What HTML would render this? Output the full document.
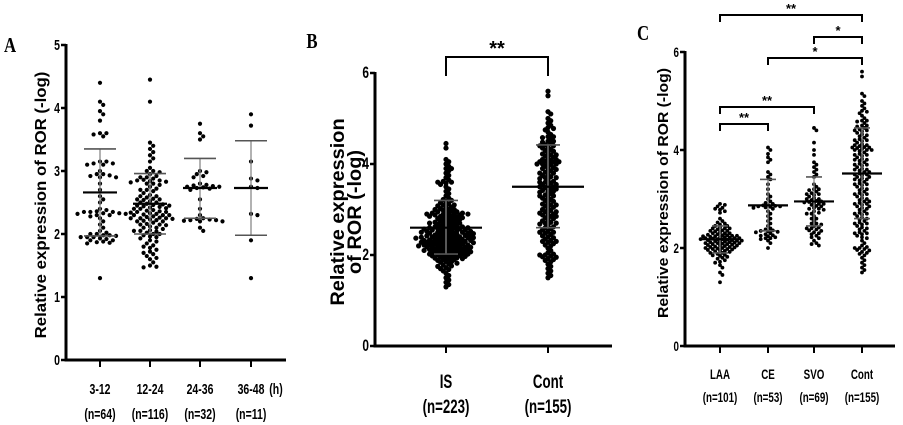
<!DOCTYPE html>
<html><head><meta charset="utf-8"><style>
html,body{margin:0;padding:0;background:#fff;width:903px;height:425px;overflow:hidden}
svg{display:block;font-family:"Liberation Sans",Arial,sans-serif}
</style></head><body>
<svg id="fig" width="903" height="425" viewBox="0 0 903 425"></svg>
<script>
// ---------- DATA ----------
const catsA = ["3-12","12-24","24-36","36-48"];
const nA = ["(n=64)","(n=116)","(n=32)","(n=11)"];
const a1 = [4.4,4.1,4.05,3.95,3.9,3.8,3.6,3.6,3.58,3.55,3.15,3.12,3.1,3.1,3.12,3.15,2.95,2.93,2.92,2.9,2.95,2.9,2.35,2.33,2.32,2.35,2.3,2.33,2.35,2.32,2.36,2.3,2.28,2.2,2.1,2.05,2.0,2.0,1.98,1.97,1.95,1.95,1.93,1.92,1.9,1.88,1.87,1.86,1.95,2.02,1.98,1.9,1.85,1.3,2.25,2.4,2.5,2.55,2.6,2.7,2.8,3.0,2.38,2.15];
const a2 = [4.45,4.1,3.45,3.4,3.35,3.3,3.25,3.2,3.15,3.05,3.0,3.0,2.98,2.95,2.92,2.9,2.88,2.86,2.85,2.85,2.84,2.83,2.82,2.8,2.8,2.78,2.75,2.72,2.7,2.68,2.65,2.62,2.6,2.58,2.56,2.55,2.54,2.52,2.5,2.5,2.48,2.47,2.46,2.45,2.44,2.43,2.42,2.41,2.4,2.4,2.38,2.37,2.36,2.35,2.34,2.33,2.32,2.31,2.3,2.3,2.28,2.27,2.26,2.25,2.25,2.24,2.23,2.22,2.21,2.2,2.2,2.18,2.16,2.15,2.14,2.12,2.1,2.1,2.08,2.06,2.05,2.04,2.02,2.0,2.0,1.98,1.96,1.95,1.93,1.9,1.88,1.85,1.82,1.8,1.78,1.75,1.72,1.7,1.68,1.65,1.62,1.6,1.55,1.5,1.48,1.47,2.6,2.7,2.9,2.35,2.45,2.15,2.05,2.55,2.25,2.3];
const a3 = [3.75,3.6,3.55,3.5,3.0,2.98,2.95,2.92,2.9,2.78,2.77,2.76,2.75,2.75,2.74,2.73,2.72,2.7,2.55,2.4,2.3,2.25,2.24,2.23,2.22,2.22,2.21,2.2,2.2,2.1,2.05,2.8];
const a4 = [3.9,3.72,3.15,2.88,2.85,2.73,2.32,2.3,1.9,1.3,2.75];
const meanA = [2.66,2.48,2.73,2.73];
const loA = [1.97,2.0,2.25,1.98];
const hiA = [3.35,2.96,3.2,3.48];

const catsB = ["IS","Cont"];
const nB = ["(n=223)","(n=155)"];
const isVals = [4.45,4.35,4.1,4.05,4.0,3.95,3.9,3.9,3.85,3.8,3.75,3.7,3.65,3.62,3.6,3.6,3.58,3.55,3.5,3.45,3.4,3.35,3.3,3.25,3.22,3.2,3.18,3.15,3.12,3.1,3.1,3.08,3.05,3.05,3.02,3.0,3.0,2.98,2.96,2.95,2.94,2.92,2.92,2.9,2.9,2.9,2.88,2.88,2.86,2.85,2.85,2.84,2.82,2.8,2.8,2.78,2.76,2.75,2.74,2.72,2.7,2.7,2.7,2.68,2.66,2.65,2.64,2.62,2.6,2.6,2.6,2.58,2.57,2.56,2.55,2.55,2.54,2.53,2.52,2.5,2.5,2.5,2.49,2.48,2.47,2.46,2.45,2.45,2.44,2.43,2.42,2.41,2.4,2.4,2.4,2.39,2.38,2.37,2.36,2.35,2.35,2.35,2.34,2.33,2.32,2.31,2.3,2.3,2.3,2.29,2.28,2.27,2.26,2.25,2.25,2.25,2.24,2.23,2.22,2.21,2.2,2.2,2.2,2.19,2.18,2.17,2.16,2.15,2.15,2.14,2.13,2.12,2.11,2.1,2.1,2.1,2.09,2.08,2.07,2.06,2.05,2.05,2.04,2.03,2.02,2.01,2.0,2.0,2.0,1.99,1.98,1.97,1.96,1.95,1.95,1.94,1.93,1.92,1.91,1.9,1.9,1.88,1.86,1.85,1.84,1.82,1.8,1.78,1.76,1.75,1.72,1.7,1.68,1.65,1.6,1.55,1.5,1.45,1.4,1.35,1.3,2.6,2.55,2.5,2.45,2.4,2.35,2.3,2.25,2.2,2.15,2.1,2.05,2.65,2.7,2.75,2.8,2.85,2.9,2.95,3.0,2.62,2.52,2.42,2.32,2.22,2.12,2.02,2.58,2.48,2.38,2.28,2.18,2.08,2.9,2.8,2.7,2.6,2.5,2.4,2.3,2.2];
const contVals = [5.6,5.5,5.15,5.1,5.0,4.95,4.9,4.85,4.8,4.78,4.75,4.7,4.65,4.6,4.58,4.55,4.5,4.5,4.48,4.45,4.42,4.4,4.38,4.35,4.32,4.3,4.28,4.25,4.22,4.2,4.18,4.15,4.12,4.1,4.1,4.08,4.06,4.05,4.05,4.04,4.02,4.0,4.0,3.98,3.95,3.92,3.9,3.88,3.85,3.82,3.8,3.78,3.75,3.72,3.7,3.68,3.65,3.62,3.6,3.58,3.55,3.52,3.5,3.5,3.48,3.45,3.42,3.4,3.38,3.35,3.32,3.3,3.28,3.25,3.22,3.2,3.18,3.15,3.12,3.1,3.08,3.05,3.02,3.0,2.98,2.95,2.92,2.9,2.88,2.85,2.82,2.8,2.78,2.75,2.72,2.7,2.68,2.65,2.62,2.6,2.58,2.55,2.52,2.5,2.48,2.45,2.42,2.4,2.38,2.35,2.32,2.3,2.28,2.25,2.22,2.2,2.15,2.1,2.05,2.02,2.0,2.0,1.98,1.96,1.95,1.92,1.9,1.88,1.85,1.8,1.75,1.7,1.65,1.6,1.55,1.5,4.0,3.9,3.8,3.6,3.4,3.3,3.1,2.9,2.7,2.5,2.3,4.2,4.4,4.6,3.7,3.55,3.45,2.95,2.85];
const meanB = [2.6,3.5];
const loB = [2.02,2.6];
const hiB = [3.2,4.42];

const catsC = ["LAA","CE","SVO","Cont"];
const nC = ["(n=101)","(n=53)","(n=69)","(n=155)"];
const laaVals = [2.9,2.88,2.85,2.82,2.8,2.78,2.75,2.72,2.6,2.55,2.52,2.5,2.48,2.45,2.45,2.42,2.4,2.4,2.38,2.36,2.35,2.34,2.32,2.3,2.3,2.28,2.27,2.26,2.25,2.25,2.24,2.23,2.22,2.21,2.2,2.2,2.2,2.19,2.18,2.18,2.17,2.16,2.15,2.15,2.14,2.13,2.12,2.11,2.1,2.1,2.1,2.09,2.08,2.07,2.06,2.05,2.05,2.04,2.03,2.02,2.01,2.0,2.0,1.99,1.98,1.97,1.96,1.95,1.94,1.93,1.92,1.9,1.9,1.88,1.86,1.85,1.84,1.82,1.8,1.78,1.75,1.72,1.7,1.65,1.6,1.5,1.45,1.3,2.22,2.18,2.16,2.14,2.24,2.26,2.12,2.08,2.3,2.35,2.4,2.02,1.98];
const ceVals = [4.05,4.0,3.92,3.85,3.8,3.75,3.55,3.5,3.45,3.4,3.3,3.2,3.1,3.05,3.0,2.95,2.92,2.9,2.88,2.87,2.86,2.85,2.85,2.84,2.83,2.82,2.8,2.75,2.7,2.65,2.6,2.55,2.5,2.45,2.4,2.38,2.36,2.35,2.34,2.33,2.32,2.3,2.28,2.26,2.25,2.24,2.22,2.2,2.2,2.18,2.15,2.1,2.0];
const svoVals = [4.45,4.4,4.15,4.0,3.9,3.75,3.7,3.65,3.6,3.55,3.5,3.45,3.3,3.25,3.2,3.18,3.15,3.12,3.1,3.08,3.05,3.02,3.0,2.98,2.96,2.95,2.94,2.93,2.92,2.9,2.88,2.86,2.85,2.82,2.8,2.78,2.75,2.72,2.7,2.65,2.6,2.55,2.5,2.48,2.45,2.42,2.4,2.38,2.36,2.35,2.32,2.3,2.28,2.25,2.22,2.2,2.15,2.1,2.08,2.05,3.0,2.9,2.8,2.7,2.6,2.5,3.1,3.2,2.4];
const meanC = [2.18,2.87,2.95,3.52];
const loC = [1.9,2.35,2.45,2.6];
const hiC = [2.45,3.4,3.45,4.45];

// ---------- DRAWING ----------
const NS="http://www.w3.org/2000/svg";
const svg=document.getElementById('fig');
function mk(tag,attrs,parent){const e=document.createElementNS(NS,tag);for(const k in attrs)e.setAttribute(k,attrs[k]);(parent||svg).appendChild(e);return e;}
function txt(s,x,y,size,parent,opts){opts=opts||{};
  const t=mk('text',{x:0,y:0,'font-size':size,'font-weight':opts.w||'bold','text-anchor':opts.a||'middle',
    'font-family':opts.f||'"Liberation Sans",Arial,sans-serif',fill:'#000',
    transform:`translate(${x},${y}) ${opts.rot?'rotate(-90)':''} scale(${opts.sx||0.7},1)`},parent);
  t.textContent=s;return t;}

function swarm(vals,cx,ys,r,pack,g,name){
  const sorted=vals.slice().sort((a,b)=>b-a);const placed=[];const d=2*r*pack;
  sorted.forEach(v=>{const py=ys(v);let k=0,px=cx;
    for(;;){const off=(k===0?0:Math.ceil(k/2)*(k%2?1:-1))*d*0.85;px=cx+off;
      if(!placed.some(p=>(p[0]-px)**2+(p[1]-py)**2<d*d))break;k++;if(k>60)break;}
    placed.push([px,py]);
    const c=mk('circle',{cx:px.toFixed(2),cy:py.toFixed(2),r:r,fill:'#000'},g);
    
    
  });
}
function panel(cfg){
  const g=mk('g',{});
  
  
  const ys=v=>cfg.y0-(v/cfg.ymax)*(cfg.y0-cfg.yTop);
  const ya=mk('line',{x1:cfg.ax,y1:cfg.yTop-1,x2:cfg.ax,y2:cfg.y0+1.5,stroke:'#000','stroke-width':3},g);
  
  const xa=mk('line',{x1:cfg.ax-1.5,y1:cfg.y0,x2:cfg.xEnd,y2:cfg.y0,stroke:'#000','stroke-width':3},g);
  
  cfg.ticks.forEach(t=>{const y=ys(t);
    mk('line',{x1:cfg.ax-5,y1:y,x2:cfg.ax,y2:y,stroke:'#000','stroke-width':2.5},g);
    const l=txt(String(t),cfg.ax-6,y+5,cfg.tickFs,g,{a:'end'});
    });
  cfg.xs.forEach((x,i)=>{
    mk('line',{x1:x,y1:cfg.y0,x2:x,y2:cfg.y0+7,stroke:'#000','stroke-width':2},g);
    const l1=txt(cfg.cats[i],x,cfg.lab1,cfg.labFs,g);
    
    const l2=txt(cfg.ns[i],x,cfg.lab2,cfg.labFs,g);
    
    swarm(cfg.data[i],x,ys,cfg.r,cfg.pack,g,cfg.cats[i]);
    const sd=mk('g',{},g);
    mk('line',{x1:x,y1:ys(cfg.hi[i]),x2:x,y2:ys(cfg.lo[i]),stroke:'#888','stroke-width':1.3},sd);
    mk('line',{x1:x-cfg.cap,y1:ys(cfg.hi[i]),x2:x+cfg.cap,y2:ys(cfg.hi[i]),stroke:'#555','stroke-width':1.6},sd);
    mk('line',{x1:x-cfg.cap,y1:ys(cfg.lo[i]),x2:x+cfg.cap,y2:ys(cfg.lo[i]),stroke:'#555','stroke-width':1.6},sd);
    const m=mk('line',{x1:x-cfg.mw,y1:ys(cfg.mean[i]),x2:x+cfg.mw,y2:ys(cfg.mean[i]),stroke:'#000','stroke-width':2.2},g);
    
  });
  return {g,ys};
}

// Panel A
const pA=panel({name:'panel-a',ax:66,y0:360,yTop:45,ymax:5,xEnd:286,ticks:[0,1,2,3,4,5],tickFs:15,
  xs:[100,150,200,251],cats:catsA,ns:nA,lab1:394,lab2:419,labFs:15,data:[a1,a2,a3,a4],
  mean:meanA,lo:loA,hi:hiA,r:2.1,pack:0.9,cap:16,mw:17});
txt('(h)',276,394,15,pA.g);
const tA=txt('Relative expression of ROR (-log)',46,205,16,pA.g,{rot:true,sx:1.05});

const LA=txt('A',10,52,21,pA.g,{f:'"Liberation Serif",serif',sx:0.8});


// Panel B
const pB=panel({name:'panel-b',ax:375,y0:346,yTop:73,ymax:6,xEnd:612,ticks:[0,2,4,6],tickFs:17,
  xs:[446,548],cats:catsB,ns:nB,lab1:388,lab2:413,labFs:19,data:[isVals,contVals],
  mean:meanB,lo:loB,hi:hiB,r:2.6,pack:0.62,cap:12,mw:36});
const tB1=txt('Relative expression',344,212,19,pB.g,{rot:true,sx:1.05});

const tB2=txt('of ROR (-log)',361,212,19,pB.g,{rot:true,sx:1.05});

const LB=txt('B',312,48,21,pB.g,{f:'"Liberation Serif",serif',sx:0.8});


function bracket(x1,x2,y,h,label,fs,g){
  const b=mk('g',{},g);
  
  
  mk('path',{d:`M${x1},${y+h}V${y}H${x2}V${y+h}`,fill:'none',stroke:'#000','stroke-width':2},b);
  txt(label,(x1+x2)/2,y-2,fs,b,{sx:1});
}
bracket(446,548,57,19,'**',20,pB.g);

// Panel C
const pC=panel({name:'panel-c',ax:685,y0:346,yTop:52,ymax:6,xEnd:895,ticks:[0,2,4,6],tickFs:14,
  xs:[720,768,814,862],cats:catsC,ns:nC,lab1:379,lab2:402,labFs:14,data:[laaVals,ceVals,svoVals,contVals],
  mean:meanC,lo:loC,hi:hiC,r:1.9,pack:0.75,cap:8,mw:20});
const tC=txt('Relative expression of ROR (-log)',668,193,15,pC.g,{rot:true,sx:1.05});

const LC=txt('C',643,40,21,pC.g,{f:'"Liberation Serif",serif',sx:0.8});

bracket(720,862,15,7,'**',13,pC.g);
bracket(814,862,37,7,'*',13,pC.g);
bracket(768,862,58,7,'*',13,pC.g);
bracket(720,814,107,7,'**',13,pC.g);
bracket(720,768,124,7,'**',13,pC.g);
</script>
</body></html>
